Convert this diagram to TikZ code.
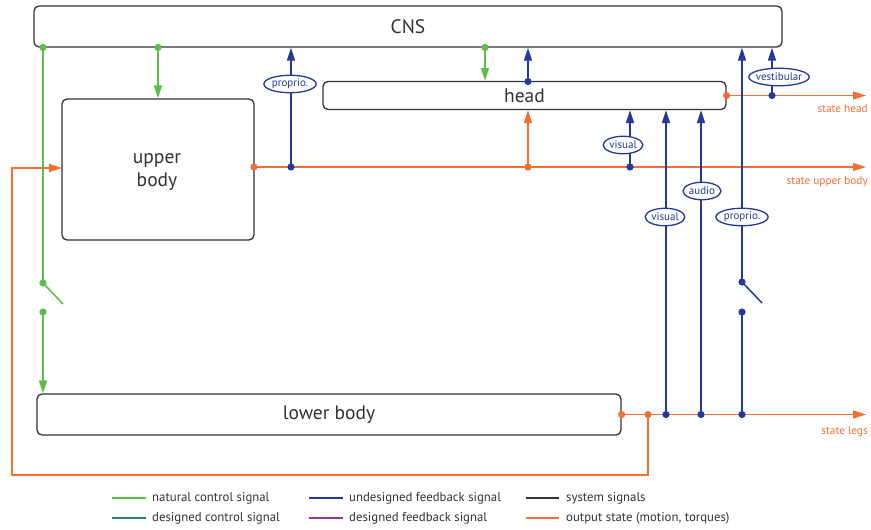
\documentclass[tikz,border=0pt]{standalone}
\usepackage{fontspec}
\setmainfont{PT Sans}
\usetikzlibrary{arrows.meta,shapes.geometric}
\definecolor{cgreen}{RGB}{92,190,72}
\definecolor{cteal}{RGB}{27,138,95}
\definecolor{cblue}{RGB}{36,57,154}
\definecolor{cpurple}{RGB}{147,55,154}
\definecolor{corange}{RGB}{245,110,50}
\definecolor{cbox}{RGB}{51,51,51}
\begin{document}
\begin{tikzpicture}[x=1pt,y=-1pt,
  box/.style={draw=cbox, line width=1.3pt, rounded corners=5pt, fill=white, inner sep=0pt, text=cbox, font=\fontsize{19.5}{23}\selectfont},
  sig/.style={line width=1.5pt},
  tip/.style={-{Triangle[length=13pt,width=8pt]}},
  lbl/.style={ellipse, draw=cblue, line width=1.3pt, fill=white, text=cblue, inner xsep=0.3pt, inner ysep=0pt, minimum height=17.5pt, font=\fontsize{11}{12}\selectfont},
  slbl/.style={text=corange, font=\fontsize{11.3}{13}\selectfont, anchor=east, inner sep=0pt},
  leg/.style={anchor=west, inner sep=0pt, text=cbox, font=\fontsize{12.8}{14}\selectfont},
  legline/.style={line width=2pt}]
\useasboundingbox (0,0) rectangle (871,530);

% boxes
\node[box, minimum width=748pt, minimum height=41pt] (cns) at (408,26.5) {CNS};
\node[box, minimum width=192pt, minimum height=141pt] (upper) at (158,169.5) {};
\node[box, align=center, draw=none, fill=none, rounded corners=0pt] (uppert) at (157,172) {upper\\body};
\node[box, minimum width=403pt, minimum height=28pt] (head) at (524.5,95.5) {head};
\node[box, minimum width=584pt, minimum height=41pt] (lower) at (329,414.5) {lower body};

% coordinates
\coordinate (ou) at (254,167);
\coordinate (ouh) at (528,167);
\coordinate (endU) at (866,167);
\coordinate (endH) at (866,95.5);
\coordinate (endL) at (866,414.5);
\coordinate (ol) at (648,414.5);
\coordinate (lp1) at (12,475);
\coordinate (uin) at (62,168);

\coordinate (b1) at (291,167);
\coordinate (b2) at (528,81.5);
\coordinate (b3) at (630,167);
\coordinate (b4) at (666,414.5);
\coordinate (b5) at (701,414.5);
\coordinate (b6) at (742,414.5);
\coordinate (b6t) at (742,312);
\coordinate (sw2) at (742,282);
\coordinate (sw2e) at (762,303);
\coordinate (b7) at (772,95.5);

\coordinate (gA) at (43,47.5);
\coordinate (sw1) at (43,283);
\coordinate (sw1e) at (63,304);
\coordinate (sw1c) at (43,312);
\coordinate (gB) at (158,47.5);
\coordinate (gC) at (485,47.5);

% orange
\draw[sig, corange, tip] (ou) -- (endU);
\draw[sig, corange, tip] (ouh) -- (ouh |- head.south);
\draw[sig, corange, tip] (head.east) -- (endH);
\draw[sig, corange, tip] (lower.east) -- (endL);
\draw[sig, corange, tip] (ol) |- (lp1) |- (uin);

% blue
\draw[sig, cblue, tip] (b1) -- (b1 |- cns.south);
\draw[sig, cblue, tip] (b2) -- (b2 |- cns.south);
\draw[sig, cblue, tip] (b3) -- (b3 |- head.south);
\draw[sig, cblue, tip] (b4) -- (b4 |- head.south);
\draw[sig, cblue, tip] (b5) -- (b5 |- head.south);
\draw[sig, cblue] (b6) -- (b6t);
\draw[sig, cblue] (sw2) -- (sw2e);
\draw[sig, cblue, tip] (sw2) -- (sw2 |- cns.south);
\draw[sig, cblue, tip] (b7) -- (b7 |- cns.south);

% green
\draw[sig, cgreen] (gA) -- (sw1);
\draw[sig, cgreen] (sw1) -- (sw1e);
\draw[sig, cgreen, tip] (sw1c) -- (sw1c |- lower.north);
\draw[sig, cgreen, tip] (gB) -- (gB |- upper.north);
\draw[sig, cgreen, tip] (gC) -- (gC |- head.north);

% dots
\foreach \p in {gA,sw1,sw1c,gB,gC} \fill[cgreen] (\p) circle[radius=3.6pt];
\foreach \p in {b1,b2,b3,b4,b5,b6,b6t,sw2,b7} \fill[cblue] (\p) circle[radius=3.6pt];
\foreach \p in {ou,ouh,head.east,lower.east,ol} \fill[corange] (\p) circle[radius=3.6pt];

% feedback labels
\node[lbl] (l1) at (290,84) {proprio.};
\node[lbl] (l2) at (623,145) {visual};
\node[lbl] (l3) at (665,217) {visual};
\node[lbl] (l4) at (702,191) {audio};
\node[lbl] (l5) at (742,217) {proprio.};
\node[lbl, inner xsep=-1.8pt] (l6) at (779,77) {vestibular};

% state labels
\node[slbl] (s1) at (868,109) {state head};
\node[slbl] (s2) at (868,182) {state upper body};
\node[slbl] (s3) at (868,432) {state legs};

% legend
\draw[legline, cgreen] (112,498) -- (146,498);
\node[leg] (t1) at (152,498) {natural control signal};
\draw[legline, cteal] (112,518) -- (146,518);
\node[leg] (t2) at (152,518) {designed control signal};
\draw[legline, cblue] (309,498) -- (343,498);
\node[leg] (t3) at (349,498) {undesigned feedback signal};
\draw[legline, cpurple] (309,518) -- (343,518);
\node[leg] (t4) at (349,518) {designed feedback signal};
\draw[legline, cbox] (526,498) -- (559,498);
\node[leg] (t5) at (566,498) {system signals};
\draw[legline, corange] (526,518) -- (559,518);
\node[leg] (t6) at (566,518) {output state (motion, torques)};
\end{tikzpicture}
\end{document}
